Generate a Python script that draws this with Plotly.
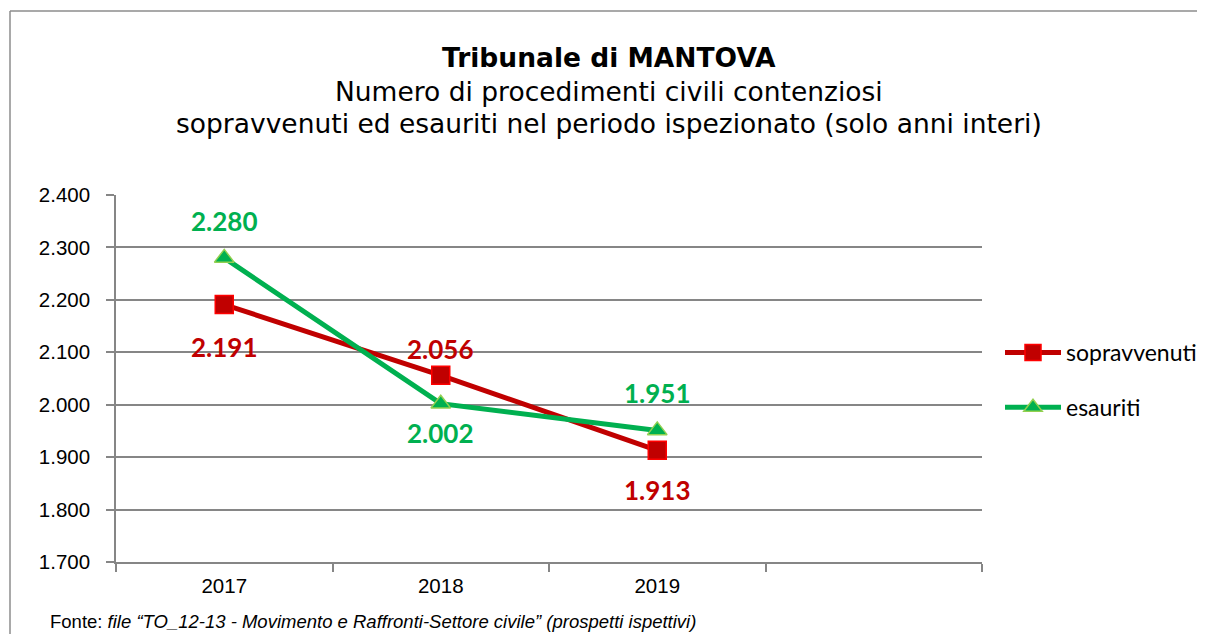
import plotly.graph_objects as go

categories = ["2017", "2018", "2019", " "]
sopravvenuti = [2191, 2056, 1913, None]
esauriti = [2280, 2002, 1951, None]
y_ticks = [1700, 1800, 1900, 2000, 2100, 2200, 2300, 2400]

# label vertical offsets (px) per point — styling only
sop_label_shift = [-42, 26, -40]
esa_label_shift = [37, -29, 37]

RED = "#C00000"
GREEN = "#00B050"

# page has an 8px body margin; figure sized to fit the 1205x642 window
OFF = 8
W, H = 1205 - OFF, 642 - 2 * OFF
PL, PR, PT, PB = 116, 982, 195, 562  # plot area in page pixels
L, T = PL - OFF, PT - OFF
R = W - (PR - OFF)
B = H - (PB - OFF)
pw, ph = PR - PL, PB - PT


def px_x(p):
    return (p - PL) / pw


def px_y(p):
    return (PB - p) / ph


fig = go.Figure()
fig.add_trace(go.Scatter(
    x=categories, y=sopravvenuti, name="sopravvenuti", mode="lines+markers",
    line=dict(color=RED, width=5),
    marker=dict(symbol="square", size=18, color=RED, line=dict(color="#FF0000", width=1.5)),
    legendgroup="a",
))
fig.add_trace(go.Scatter(
    x=categories, y=esauriti, name="esauriti", mode="lines+markers",
    line=dict(color=GREEN, width=5),
    marker=dict(symbol="triangle-up", size=17, color=GREEN, line=dict(color="#92D050", width=1.5)),
    legendgroup="b",
))


def fmt(v):
    return f"{v:,}".replace(",", ".")


ann = []
for i, (v, sh) in enumerate(zip(sopravvenuti, sop_label_shift)):
    ann.append(dict(x=i, y=v, xref="x", yref="y", text=f"<b>{fmt(v)}</b>", showarrow=False,
                    yshift=sh, yanchor="middle",
                    font=dict(family="Lato, Carlito, sans-serif", size=26, color=RED)))
for i, (v, sh) in enumerate(zip(esauriti, esa_label_shift)):
    ann.append(dict(x=i, y=v, xref="x", yref="y", text=f"<b>{fmt(v)}</b>", showarrow=False,
                    yshift=sh, yanchor="middle",
                    font=dict(family="Lato, Carlito, sans-serif", size=26, color=GREEN)))

title_lines = [
    ("<b>Tribunale di MANTOVA</b>", 57),
    ("Numero di procedimenti civili contenziosi", 91),
    ("sopravvenuti ed esauriti nel periodo ispezionato (solo anni interi)", 124),
]
for txt, yp in title_lines:
    ann.append(dict(x=px_x(609), y=px_y(yp), xref="paper", yref="paper", text=txt,
                    showarrow=False, xanchor="center", yanchor="middle",
                    font=dict(family="DejaVu Sans, Verdana, sans-serif", size=26.5, color="#000000")))

ann.append(dict(x=px_x(48), y=px_y(621), xref="paper", yref="paper",
                text='Fonte: <i>file “TO_12-13 - Movimento e Raffronti-Settore civile” (prospetti ispettivi)</i>',
                showarrow=False, xanchor="left", yanchor="middle",
                font=dict(family="Liberation Sans, Arial, sans-serif", size=18.5, color="#000000")))

BORDER = dict(color="#8C8C8C", width=1.5)
fig.update_layout(
    width=W, height=H,
    margin=dict(l=L, r=R, t=T, b=B, autoexpand=False),
    paper_bgcolor="white", plot_bgcolor="white",
    separators=",.",
    showlegend=True,
    legend=dict(x=px_x(1000), y=px_y(380), xanchor="left", yanchor="middle",
                font=dict(family="Lato, Carlito, sans-serif", size=23, color="#000000"),
                traceorder="grouped", tracegroupgap=22, bgcolor="rgba(0,0,0,0)",
                borderwidth=0, itemwidth=56),
    annotations=ann,
    shapes=[
        dict(type="line", xref="paper", yref="paper", x0=px_x(10), x1=px_x(1204),
             y0=px_y(11), y1=px_y(11), line=BORDER, layer="below"),
        dict(type="line", xref="paper", yref="paper", x0=px_x(10), x1=px_x(10),
             y0=px_y(11), y1=px_y(640), line=BORDER, layer="below"),
    ],
)
fig.update_xaxes(
    type="category", categoryorder="array", categoryarray=categories,
    range=[-0.5, 3.5], tickson="boundaries", ticks="outside", ticklen=8,
    tickcolor="#868686", tickwidth=1.5, showline=True, linecolor="#868686", linewidth=1.5,
    showgrid=False, zeroline=False, ticklabelstandoff=5,
    tickfont=dict(family="Liberation Sans, Arial, sans-serif", size=20.5, color="#000000"),
)
fig.update_yaxes(
    range=[1700, 2400], tickvals=y_ticks, tickformat=",d",
    ticks="outside", ticklen=8, tickcolor="#868686", tickwidth=1.5, ticklabelstandoff=12,
    showline=True, linecolor="#868686", linewidth=1.5,
    showgrid=True, gridcolor="#868686", gridwidth=1.5, zeroline=False,
    tickfont=dict(family="Liberation Sans, Arial, sans-serif", size=20.5, color="#000000"),
)

fig.write_html("out.html")
